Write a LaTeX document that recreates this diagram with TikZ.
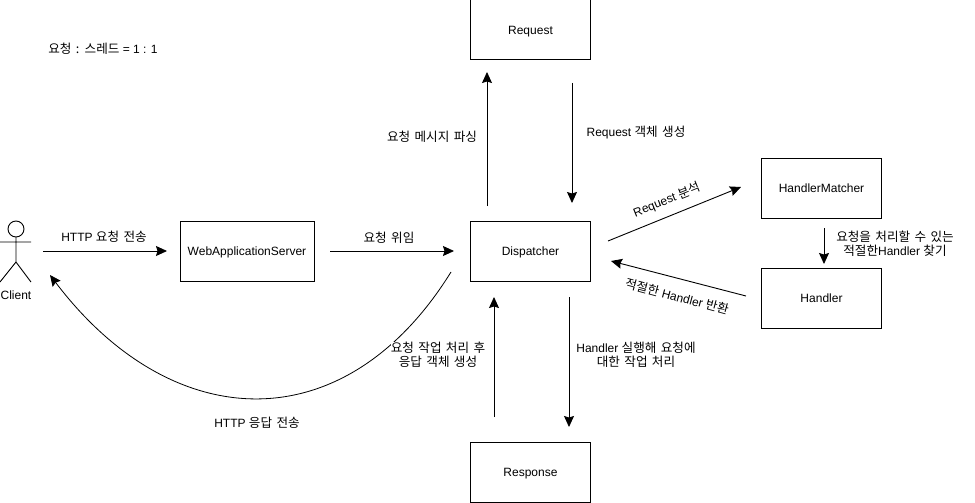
\documentclass[tikz,border=0pt]{standalone}
\usepackage{fontspec}
\setmainfont{Liberation Sans}
\newfontfamily\krfont[Scale=1.05,WordSpace=1.55]{Noto Sans CJK KR}
\newcommand{\kr}[1]{{\krfont #1}}
\usetikzlibrary{arrows.meta}

\begin{document}
\begin{tikzpicture}[x=1pt,y=-1pt,>={Stealth[inset=1.5pt,length=11pt,width=10pt]},
box/.style={draw,line width=1pt,minimum width=120pt,minimum height=60pt,inner sep=0pt,align=center,
 font=\fontsize{12}{14}\selectfont,text height=8.6pt,text depth=0pt},
flow/.style={->,line width=.9pt},
lbl/.style={font=\fontsize{12}{14}\selectfont,align=center,inner sep=0pt}]
 \useasboundingbox (0,0) rectangle (975,503);
 % boxes
 \node[box] (request) at (530.5,30) {Request};
 \node[box,minimum width=134pt] (server) at (247,251.5) {WebApplicationServer};
 \node[box] (dispatcher) at (530.5,251.5) {Dispatcher};
 \node[box] (response) at (530.5,472) {Response};
 \node[box] (matcher) at (821.5,188) {HandlerMatcher};
 \node[box] (handler) at (821.5,298) {Handler};
 % client
 \draw[line width=.9pt] (16,229) circle (8);
 \draw[line width=.9pt] (16,237) -- (16,262) (0,242) -- (31,242) (0,282) -- (16,262) -- (31,282);
 \node[lbl] (client) at (16,295.5) {Client};
 % free ends
 \coordinate (c1) at (43,251);
 \coordinate (c2) at (167,251);
 \coordinate (s1) at (330,251);
 \coordinate (s2) at (454,251);
 \coordinate (d1) at (487,206);
 \coordinate (d2) at (487,72);
 \coordinate (r1) at (572,83);
 \coordinate (r2) at (572,203);
 \coordinate (a1) at (608,241);
 \coordinate (a2) at (741,187);
 \coordinate (h1) at (746,296);
 \coordinate (h2) at (611,261);
 \coordinate (m1) at (824,228);
 \coordinate (m2) at (824,264);
 \coordinate (e1) at (494,417);
 \coordinate (e2) at (494,297);
 \coordinate (g1) at (569,297);
 \coordinate (g2) at (569,427);
 \coordinate (b1) at (451,272);
 \coordinate (b2) at (50,275);
 \draw[flow] (c1) -- (c2);
 \draw[flow] (s1) -- (s2);
 \draw[flow] (d1) -- (d2);
 \draw[flow] (r1) -- (r2);
 \draw[flow] (a1) -- (a2);
 \draw[flow] (h1) -- (h2);
 \draw[flow] (m1) -- (m2);
 \draw[flow] (e1) -- (e2);
 \draw[flow] (g1) -- (g2);
 \draw[flow,line width=.8pt] (b1) .. controls (345,443) and (172,436) .. (b2);
 % labels
 \node[lbl] (note) at (103,48.5) {\kr{요청 : 스레드} = 1 : 1};
 \node[lbl] (lsend) at (104,237) {HTTP \kr{요청 전송}};
 \node[lbl] (ldelegate) at (389,238) {\kr{요청 위임}};
 \node[lbl] (lparse) at (432,136.5) {\kr{요청 메시지 파싱}};
 \node[lbl] (lcreate) at (636,133) {Request \kr{객체 생성}};
 \node[lbl,rotate=22] (lanalyse) at (667,200) {Request \kr{분석}};
 \node[lbl,rotate=-15] (lreturn) at (677,296.5) {\kr{적절한} Handler \kr{반환}};
 \node[lbl] (lfind) at (895,243.5) {\kr{요청을 처리할 수 있는}\\\kr{적절한}Handler \kr{찾기}};
 \node[lbl,fill=white] (lresult) at (438,354.5) {\kr{요청 작업 처리 후}\\\kr{응답 객체 생성}};
 \node[lbl] (lrun) at (636,354.5) {Handler \kr{실행해 요청에}\\\kr{대한 작업 처리}};
 \node[lbl] (lreply) at (257,423) {HTTP \kr{응답 전송}};
\end{tikzpicture}
\end{document}
